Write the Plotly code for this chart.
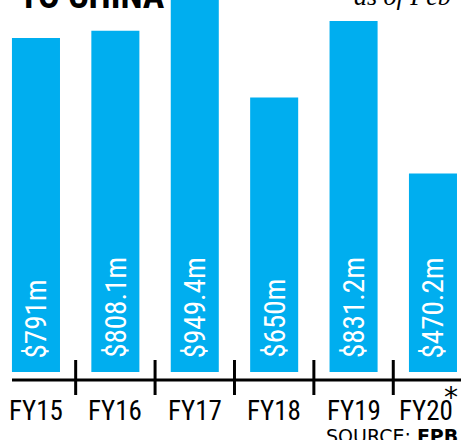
import plotly.graph_objects as go

categories = ["FY15", "FY16", "FY17", "FY18", "FY19", "FY20"]
values = [791, 808.1, 949.4, 650, 831.2, 470.2]
bar_labels = ["$791m", "$808.1m", "$949.4m", "$650m", "$831.2m", "$470.2m"]

BLUE = "#00AEEF"
NARROW = "Liberation Sans Narrow, Roboto Condensed, DejaVu Sans Condensed, sans-serif"

fig = go.Figure()
fig.add_trace(go.Bar(
    x=list(range(len(categories))), y=values,
    marker=dict(color=BLUE, line=dict(width=0)),
    width=0.605, hoverinfo="skip",
))

# rotated value labels inside bars
for i, (lab, v) in enumerate(zip(bar_labels, values)):
    fig.add_annotation(x=i, y=0, xref="x", yref="y", text=lab, textangle=-90,
                       showarrow=False, xanchor="center", yanchor="bottom", yshift=12,
                       font=dict(family=NARROW, size=29, color="white"))

# baseline and tick marks
fig.add_shape(type="line", xref="paper", yref="paper", x0=12/461, x1=1,
              y0=-8/372, y1=-8/372, line=dict(color="black", width=3))
for i in range(len(categories) - 1):
    fig.add_shape(type="line", xref="x", yref="paper", x0=i + 0.5, x1=i + 0.5,
                  y0=12/372, y1=-23/372, line=dict(color="black", width=3))

# category labels
for i, c in enumerate(categories):
    fig.add_annotation(x=i, y=-21/372, xref="x", yref="paper", text=c, showarrow=False,
                       xanchor="center", yanchor="top",
                       xshift=-7 if i == len(categories) - 1 else 0,
                       font=dict(family=NARROW, size=27, color="black"))

fig.add_annotation(x=451/461, y=-7/372, xref="paper", yref="paper", text="*", showarrow=False,
                   xanchor="center", yanchor="top",
                   font=dict(family="DejaVu Sans", size=28, color="black"))

fig.add_annotation(x=460/461, y=-51/372, xref="paper", yref="paper",
                   text="SOURCE: <b>EPB</b>", showarrow=False, xanchor="right", yanchor="top",
                   font=dict(family="DejaVu Sans", size=19, color="black"))

# clipped header texts
fig.add_annotation(x=17/461, y=1 - 19/372, xref="paper", yref="paper",
                   text="<b>TO CHINA</b>", showarrow=False, xanchor="left", yanchor="bottom",
                   font=dict(family=NARROW, size=36, color="black"))
fig.add_annotation(x=352/461, y=1 - 13/372, xref="paper", yref="paper",
                   text="<i>as of Feb</i>", showarrow=False, xanchor="left", yanchor="bottom",
                   font=dict(family="Liberation Serif", size=26, color="black"))

fig.update_layout(
    width=461, height=440,
    margin=dict(l=0, r=0, t=0, b=68),
    paper_bgcolor="white", plot_bgcolor="white",
    showlegend=False,
    xaxis=dict(range=[-0.453, 5.353], showticklabels=False, showgrid=False,
               zeroline=False, showline=False, ticks="", fixedrange=True),
    yaxis=dict(range=[0, 880.9], visible=False, showgrid=False, zeroline=False,
               fixedrange=True),
)
fig.write_html("out.html", config={"displayModeBar": False},
               post_script="document.body.style.margin='0';document.body.style.overflow='hidden';")
